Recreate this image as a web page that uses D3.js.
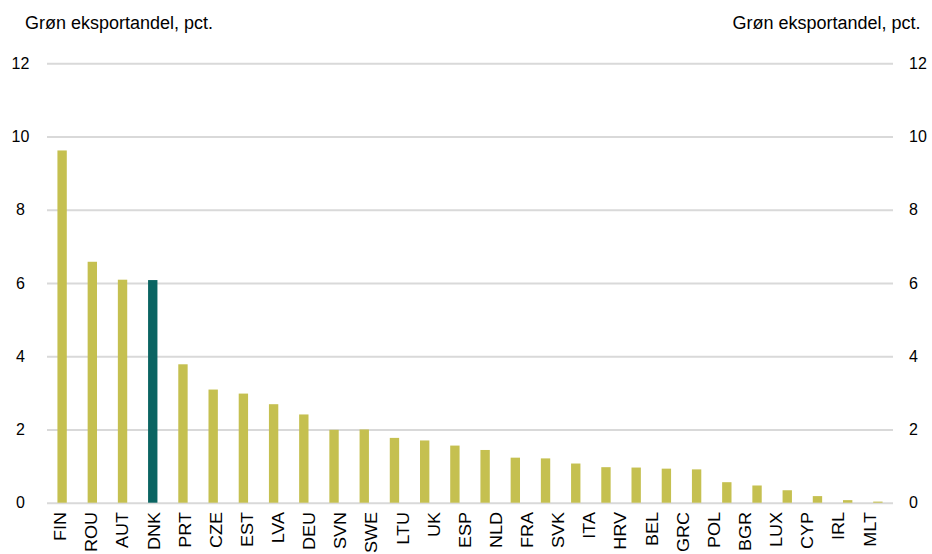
<!DOCTYPE html>
<html>
<head>
<meta charset="utf-8">
<script src="https://cdn.jsdelivr.net/npm/d3@7/dist/d3.min.js"></script>
<style>
  html, body { margin: 0; padding: 0; background: #ffffff; }
  svg { display: block; }
  text { font-family: "Liberation Sans", Arial, sans-serif; fill: #000; }
</style>
</head>
<body>
<svg id="chart" width="932" height="554"></svg>
<script>
// ---- data ----
const categories = ["FIN","ROU","AUT","DNK","PRT","CZE","EST","LVA","DEU","SVN","SWE","LTU","UK","ESP","NLD","FRA","SVK","ITA","HRV","BEL","GRC","POL","BGR","LUX","CYP","IRL","MLT"];
const values = [9.62,6.58,6.09,6.08,3.78,3.09,2.98,2.69,2.41,1.99,2.00,1.77,1.70,1.56,1.44,1.23,1.21,1.07,0.97,0.96,0.93,0.91,0.56,0.47,0.34,0.18,0.07,0.03];
const highlightIndex = 3; // DNK
const yTicks = [0, 2, 4, 6, 8, 10, 12];
const axisTitle = "Grøn eksportandel, pct.";

// ---- layout ----
const plotLeft = 47, plotRight = 893, plotTop = 63.3, plotBottom = 502.7;
const colors = { bar: "#c5c050", highlight: "#0a6462", grid: "#d9d9d9" };

const svg = d3.select("#chart");

const y = d3.scaleLinear().domain([0, 12]).range([plotBottom, plotTop]);
const xBar = d3.scaleBand()
  .domain(d3.range(values.length))
  .range([plotLeft, plotRight])
  .paddingInner(0.69)
  .paddingOuter(0.345);
const xLabel = d3.scaleBand()
  .domain(categories)
  .range([45.1, 885.6]);

// gridlines + right tick labels
const gRight = svg.append("g")
  .attr("transform", `translate(${plotLeft},0)`)
  .call(d3.axisRight(y).tickValues(yTicks).tickSize(plotRight - plotLeft).tickPadding(16).tickFormat(d3.format("d")));
gRight.select(".domain").remove();
gRight.selectAll(".tick line").attr("stroke", colors.grid).attr("stroke-width", 2);
gRight.selectAll(".tick text").style("font-size", "16px").attr("fill", "#000");

// left tick labels (centred in the left margin)
const gLeft = svg.append("g")
  .attr("transform", `translate(${plotLeft},0)`)
  .call(d3.axisLeft(y).tickValues(yTicks).tickSize(0).tickPadding(26.5).tickFormat(d3.format("d")));
gLeft.select(".domain").remove();
gLeft.selectAll(".tick text").style("font-size", "16px").attr("fill", "#000").attr("text-anchor", "middle");

// bars
svg.append("g").selectAll("rect")
  .data(values)
  .join("rect")
  .attr("x", (d, i) => xBar(i))
  .attr("width", xBar.bandwidth())
  .attr("y", d => y(d))
  .attr("height", d => y(0) - y(d))
  .attr("fill", (d, i) => i === highlightIndex ? colors.highlight : colors.bar);

// category labels
svg.append("g").selectAll("text")
  .data(categories)
  .join("text")
  .attr("transform", d => `translate(${xLabel(d) + xLabel.bandwidth() / 2},512) rotate(-90) scale(1.06,0.92)`)
  .attr("dy", "0.35em")
  .attr("text-anchor", "end")
  .style("font-size", "17px")
  .text(d => d);

// axis titles
svg.append("text").attr("x", 25).attr("y", 29).style("font-size", "18px").text(axisTitle);
svg.append("text").attr("x", 920.5).attr("y", 29).attr("text-anchor", "end").style("font-size", "18px").text(axisTitle);
</script>
</body>
</html>
